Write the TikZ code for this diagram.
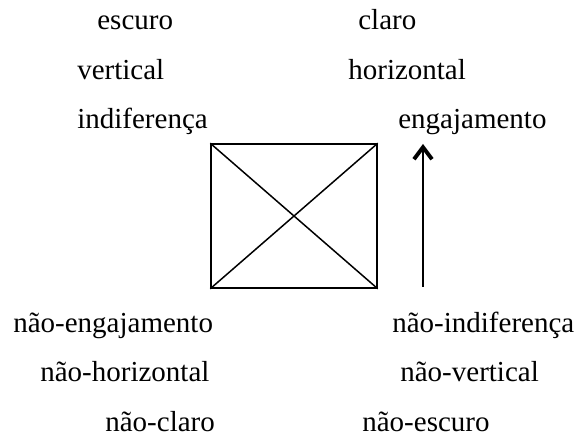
\documentclass[tikz,border=0pt]{standalone}
\usepackage{fontspec}
\setmainfont{Liberation Serif}
\usepackage{tikz}
\usetikzlibrary{arrows.meta,calc,positioning}

\begin{document}
\begin{tikzpicture}[>=Stealth,font=\fontsize{16.5}{19}\selectfont]
  \tikzset{
    semword/.style={anchor=base west, inner sep=0pt, text=black},
    semsquare/.style={
      draw=black,
      line width=0.85pt,
      minimum width=3.32cm,
      minimum height=2.88cm,
      inner sep=0pt
    },
    semdiag/.style={draw=black, line width=0.85pt},
    semarrow/.style={
      -{Straight Barb[length=0.24cm,width=0.36cm,line width=2.2pt]},
      line width=0.6pt
    }
  }
  \path[use as bounding box] (0,0) rectangle (11.54,8.78);

  \node[semword] (escuro) at (1.94,8.18) {escuro};
  \node[semword] (claro) at (7.16,8.18) {claro};
  \node[semword] (vertical) at (1.54,7.18) {vertical};
  \node[semword] (horizontal) at (6.96,7.18) {horizontal};
  \node[semword] (indif) at (1.54,6.20) {indiferença};
  \node[semword] (engaj) at (7.96,6.20) {engajamento};

  \node[semsquare] (sq) at (5.88,4.46) {};
  \draw[semdiag] (sq.north west) -- (sq.south east);
  \draw[semdiag] (sq.south west) -- (sq.north east);

  \coordinate (arrbase) at (8.46,3.04);
  \coordinate (arrtip) at (8.46,5.90);
  \draw[semarrow] (arrbase) -- (arrtip);

  \node[semword] (naoengaj) at (0.26,2.12) {não-engajamento};
  \node[semword] (naoindif) at (7.84,2.12) {não-indiferença};
  \node[semword] (naohoriz) at (0.80,1.14) {não-horizontal};
  \node[semword] (naovert) at (8.00,1.14) {não-vertical};
  \node[semword] (naoclaro) at (2.10,0.14) {não-claro};
  \node[semword] (naoescuro) at (7.24,0.14) {não-escuro};
\end{tikzpicture}
\end{document}
